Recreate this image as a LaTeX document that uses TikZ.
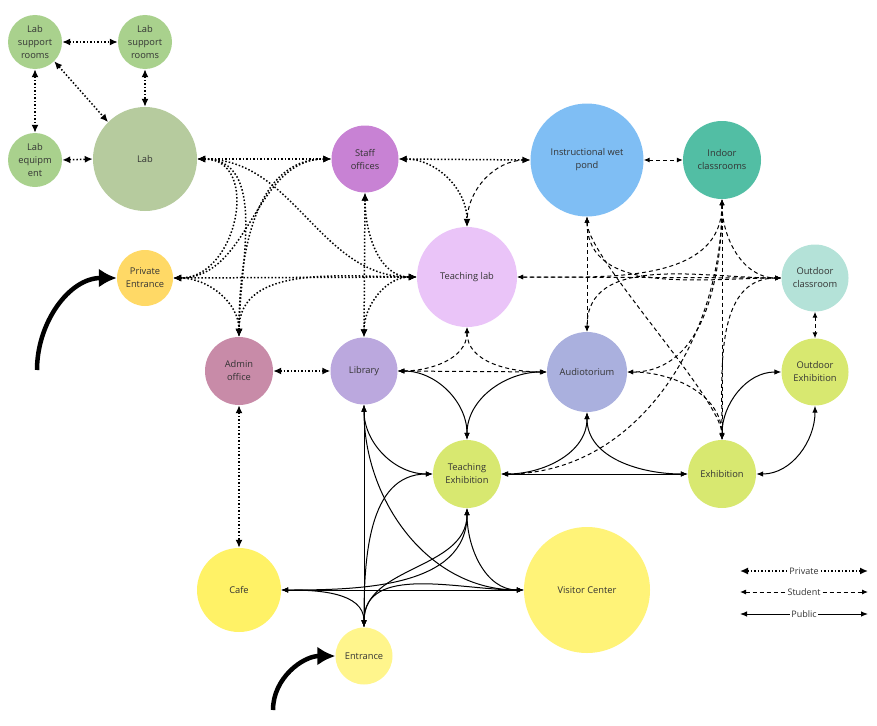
\documentclass[tikz,border=0pt]{standalone}
\usepackage{fontspec}
\setmainfont{Open Sans}
\usepackage{tikz}
\usetikzlibrary{arrows.meta}
\tikzset{>=latex}
\definecolor{labgreen}{RGB}{169,209,141}
\definecolor{labbig}{RGB}{182,203,158}
\definecolor{pentyellow}{RGB}{255,217,102}
\definecolor{staffviolet}{RGB}{200,130,212}
\definecolor{tlabpink}{RGB}{234,196,248}
\definecolor{pondblue}{RGB}{127,190,244}
\definecolor{indoorteal}{RGB}{82,190,164}
\definecolor{oclassmint}{RGB}{180,226,216}
\definecolor{adminrose}{RGB}{200,139,168}
\definecolor{libviolet}{RGB}{187,168,222}
\definecolor{audblue}{RGB}{170,176,222}
\definecolor{exhlime}{RGB}{216,232,112}
\definecolor{cafeyellow}{RGB}{255,242,102}
\definecolor{visyellow}{RGB}{255,243,120}
\definecolor{entyellow}{RGB}{255,245,140}
\tikzset{
	room/.style 2 args={circle, fill=#1, minimum size=#2, inner sep=0pt, align=center, text=black!80, font=\fontsize{9.3}{13}\selectfont},
	private/.style={{Latex[length=8pt, width=7pt]}-{Latex[length=8pt, width=7pt]}, line width=1.5pt, dash pattern=on 1.5pt off 2pt},
	student/.style={{Latex[length=6pt, width=5pt]}-{Latex[length=6pt, width=5pt]}, line width=1pt, dash pattern=on 4pt off 3pt},
	public/.style={{Latex[length=7pt, width=5.5pt]}-{Latex[length=7pt, width=5.5pt]}, line width=1pt},
	inarrow/.style={-{Latex[length=18pt, width=19pt]}, line width=4.5pt},
	keytext/.style={fill=white, inner sep=1.5pt, text=black!80, font=\fontsize{9}{10}\selectfont}
}

\begin{document}
\begin{tikzpicture}[x=1pt, y=-1pt]
	\useasboundingbox (0, 0) rectangle (877, 725);
	\node[room={labgreen}{54pt}] (sup1) at (35, 42) {Lab\\support\\rooms};
	\node[room={labgreen}{54pt}] (sup2) at (145, 42) {Lab\\support\\rooms};
	\node[room={labgreen}{54pt}] (equip) at (35, 160) {Lab\\equipm\\ent};
	\node[room={labbig}{104pt}] (lab) at (145, 159) {Lab};
	\node[room={pentyellow}{56pt}] (pent) at (145, 278) {Private\\Entrance};
	\node[room={staffviolet}{67pt}] (staff) at (365, 159) {Staff\\offices};
	\node[room={tlabpink}{100pt}] (tlab) at (467, 277) {Teaching lab};
	\node[room={pondblue}{113pt}] (pond) at (587, 160) {Instructional wet\\pond};
	\node[room={indoorteal}{78pt}] (indoor) at (722, 160) {Indoor\\classrooms};
	\node[room={oclassmint}{67pt}] (oclass) at (815, 278) {Outdoor\\classroom};
	\node[room={adminrose}{68pt}] (admin) at (239, 371) {Admin\\office};
	\node[room={libviolet}{67pt}] (lib) at (364, 371) {Library};
	\node[room={audblue}{80pt}] (aud) at (587, 372) {Audiotorium};
	\node[room={exhlime}{67pt}] (oexh) at (815, 372) {Outdoor\\Exhibition};
	\node[room={exhlime}{68pt}] (texh) at (467, 474) {Teaching\\Exhibition};
	\node[room={exhlime}{68pt}] (exh) at (722, 474) {Exhibition};
	\node[room={cafeyellow}{84pt}] (cafe) at (239, 590) {Cafe};
	\node[room={visyellow}{126pt}] (vis) at (587, 590) {Visitor Center};
	\node[room={entyellow}{57pt}] (ent) at (364, 656) {Entrance};

	\draw[private](sup1.east)--(sup2.west);
	\draw[private](sup1.south)--(equip.north);
	\draw[private](sup1.south east)--(lab.135);
	\draw[private](sup2.south)--(lab.north);
	\draw[private](equip.east)--(lab.west);
	\draw[private](lab.east)--(staff.west);
	\draw[private](lab.east)to[out=0, in=180](tlab.west);
	\draw[private](lab.east)to[out=0, in=0, looseness=1.35](pent.east);
	\draw[private](lab.east)to[out=0, in=90](admin.north);
	\draw[private](staff.west)to[out=180, in=0](pent.east);
	\draw[private](staff.west)to[out=180, in=90](admin.north);
	\draw[private](pent.east)--(tlab.west);
	\draw[private](pent.east)to[out=0, in=90](admin.north);
	\draw[private](admin.north)to[out=90, in=180](tlab.west);
	\draw[private](staff.south)--(lib.north);
	\draw[private](staff.south)to[out=-90, in=180](tlab.west);
	\draw[private](lib.north)to[out=90, in=180](tlab.west);
	\draw[private](staff.east)--(pond.west);
	\draw[private](staff.east)to[out=0, in=90](tlab.north);
	\draw[private](admin.east)--(lib.west);
	\draw[private](admin.south)--(cafe.north);

	\draw[student](pond.west)to[out=180, in=90](tlab.north);
	\draw[student](pond.east)--(indoor.west);
	\draw[student](pond.south)--(aud.north);
	\draw[student](pond.south)to[out=-90, in=180](oclass.west);
	\draw[student](pond.south)to[out=-90, in=90, looseness=.4](exh.north);
	\draw[student](indoor.south)--(exh.north);
	\draw[student](indoor.south)to[out=-90, in=180](oclass.west);
	\draw[student](indoor.south)to[out=-90, in=0](tlab.east);
	\draw[student](indoor.south)to[out=-90, in=0](aud.east);
	\draw[student](indoor.south)to[out=-90, in=0](texh.east);
	\draw[student](tlab.east)--(oclass.west);
	\draw[student](tlab.south)to[out=-90, in=0](lib.east);
	\draw[student](tlab.south)to[out=-90, in=180](aud.west);
	\draw[student](lib.east)--(aud.west);
	\draw[student](aud.east)to[out=0, in=90](exh.north);
	\draw[student](aud.north)to[out=90, in=180](oclass.west);
	\draw[student](oclass.west)to[out=180, in=90](exh.north);
	\draw[student](oclass.south)--(oexh.north);

	\draw[public](lib.east)to[out=0, in=90](texh.north);
	\draw[public](aud.west)to[out=180, in=90](texh.north);
	\draw[public](lib.south)--(ent.north);
	\draw[public](lib.south)to[out=-90, in=180](texh.west);
	\draw[public](lib.south)to[out=-90, in=180](vis.west);
	\draw[public](cafe.east)--(vis.west);
	\draw[public](ent.north)to[out=90, in=0](cafe.east);
	\draw[public](ent.north)to[out=90, in=180](texh.west);
	\draw[public](ent.north)to[out=90, in=-90](texh.south);
	\draw[public](texh.south)to[out=-90, in=0](cafe.east);
	\draw[public](texh.south)to[out=-90, in=180](vis.west);
	\draw[public](ent.north)to[out=90, in=180](vis.west);
	\draw[public](aud.south)to[out=-90, in=0](texh.east);
	\draw[public](aud.south)to[out=-90, in=180](exh.west);
	\draw[public](texh.east)--(exh.west);
	\draw[public](exh.north)to[out=90, in=180](oexh.west);
	\draw[public](exh.east)to[out=0, in=-90](oexh.south);

	\coordinate (pin) at (37, 370);
	\coordinate (ein) at (273, 710);
	\draw[inarrow](pin)to[out=90, in=180](pent.west);
	\draw[inarrow](ein)to[out=90, in=180](ent.west);

	\coordinate (ka1) at (740, 571);
	\coordinate (kb1) at (868, 571);
	\coordinate (ka2) at (740, 592);
	\coordinate (kb2) at (868, 592);
	\coordinate (ka3) at (740, 614);
	\coordinate (kb3) at (868, 614);
	\draw[private](ka1)--(kb1);
	\draw[student](ka2)--(kb2);
	\draw[public](ka3)--(kb3);
	\node[keytext] (kpriv) at (804, 571) {Private};
	\node[keytext] (kstud) at (804, 592) {Student};
	\node[keytext] (kpub) at (804, 614) {Public};
\end{tikzpicture}
\end{document}
